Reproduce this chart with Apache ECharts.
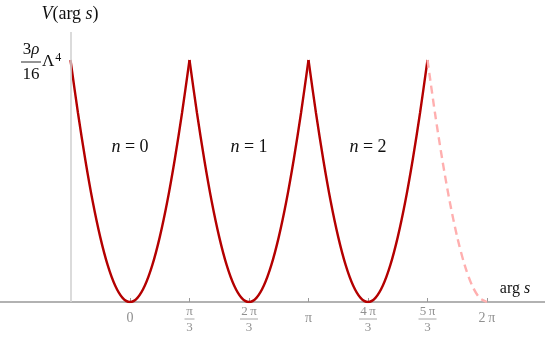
<!DOCTYPE html>
<html>
<head>
<meta charset="utf-8">
<script src="https://cdn.jsdelivr.net/npm/echarts@6/dist/echarts.min.js"></script>
<style>html,body{margin:0;padding:0;background:#fff}#c{width:545px;height:337px}</style>
</head>
<body>
<div id="c"></div>
<script>
// x in units of pi/3, sampled every pi/24 (1/8 unit); y normalised so max = 3rho/16 Lambda^4 = 1
const sampleStep = 1 / 8;
const branchN0 = [1.0,0.782,0.586,0.413,0.268,0.152,0.068,0.017,0,0.017,0.068,0.152,0.268,0.413,0.586,0.782,1.0];
const branchN1 = [1.0,0.782,0.586,0.413,0.268,0.152,0.068,0.017,0,0.017,0.068,0.152,0.268,0.413,0.586,0.782,1.0];
const branchN2 = [1.0,0.782,0.586,0.413,0.268,0.152,0.068,0.017,0,0.017,0.068,0.152,0.268,0.413,0.586,0.782,1.0];
const branchDashed = [1.0,0.782,0.586,0.413,0.268,0.152,0.068,0.017,0];
const branchStarts = [-1, 1, 3, 5];
const tickValues = [0,1,2,3,4,5,6];
const tickNumerators = ['0','π','2\u2009π','π','4\u2009π','5\u2009π','2\u2009π'];
const tickDenominators = ['','3','3','','3','3',''];
const branchLabels = ['n = 0','n = 1','n = 2'];

function pts(arr, start){ return arr.map((v,i)=>[start + i*sampleStep, v]); }

const chart = echarts.init(document.getElementById('c'), null, {renderer:'canvas'});
const red = '#b40000';
const serif = '"Liberation Serif","DejaVu Serif",serif';

const curveSeries = (data, dashed) => ({
  type:'line', data, smooth:0.3, symbol:'none', silent:true, z:3,
  lineStyle:{color: dashed ? '#ffafaf' : red, width:2.4, type: dashed ? [8,5] : 'solid'}
});

chart.setOption({
  animation:false,
  grid:{left:0, right:0, top:32, bottom:35},
  xAxis:{type:'value', min:-130/59.5, max:415/59.5,
    axisLine:{show:true, onZero:false, lineStyle:{color:'#999', width:1.5}},
    axisTick:{show:true, inside:true, length:4, customValues:tickValues, lineStyle:{color:'#999', width:1}},
    axisLabel:{show:false}, splitLine:{show:false}},
  yAxis:{type:'value', min:0, max:270/242, show:false, splitLine:{show:false}},
  series:[
    Object.assign(curveSeries(pts(branchN0, branchStarts[0]), false), {
      markLine:{silent:true, symbol:'none', label:{show:false},
        lineStyle:{color:'#d2d2d2', width:1.6, type:'solid'},
        data:[{xAxis:-1}]}, z:2}),
    curveSeries(pts(branchN1, branchStarts[1]), false),
    curveSeries(pts(branchN2, branchStarts[2]), false),
    curveSeries(pts(branchDashed, branchStarts[3]), true),
    {
      type:'custom', silent:true, clip:false,
      data: tickValues.map((v,i)=>[v, i]),
      renderItem:function(params, api){
        const i = api.value(1);
        const p = api.coord([api.value(0), 0]);
        const num = tickNumerators[i], den = tickDenominators[i];
        const col = '#909090';
        if (!den) {
          return {type:'text', style:{text:num, x:p[0], y:p[1]+16, align:'center', verticalAlign:'middle',
            font:'14px '+serif, fill:col}};
        }
        const hw = num.length > 1 ? 9 : 5;
        return {type:'group', children:[
          {type:'text', style:{text:num, x:p[0], y:p[1]+10, align:'center', verticalAlign:'middle', font:'13px '+serif, fill:col}},
          {type:'line', shape:{x1:p[0]-hw, y1:p[1]+17, x2:p[0]+hw, y2:p[1]+17}, style:{stroke:col, lineWidth:0.8}},
          {type:'text', style:{text:den, x:p[0], y:p[1]+26, align:'center', verticalAlign:'middle', font:'13px '+serif, fill:col}}
        ]};
      }
    }
  ]
});

const px = (v) => chart.convertToPixel({gridIndex:0}, [v, 0])[0];
const graphics = [
  {type:'text', silent:true, style:{x:70, y:14, align:'center', verticalAlign:'middle', fill:'#111',
    text:'{i|V}{r|(arg }{i|s}{r|)}',
    rich:{i:{font:'italic 18px '+serif}, r:{font:'18px '+serif}}}},
  {type:'text', silent:true, style:{x:515, y:289, align:'center', verticalAlign:'middle', fill:'#111',
    text:'{r|arg }{i|s}',
    rich:{i:{font:'italic 16px '+serif}, r:{font:'16px '+serif}}}},
  // y label fraction
  {type:'text', silent:true, style:{x:31, y:50, align:'center', verticalAlign:'middle', fill:'#111',
    text:'{r|3}{i|ρ}', rich:{i:{font:'italic 17px '+serif}, r:{font:'17px '+serif}}}},
  {type:'line', silent:true, shape:{x1:21, y1:62, x2:41, y2:62}, style:{stroke:'#111', lineWidth:0.9}},
  {type:'text', silent:true, style:{x:31, y:75, align:'center', verticalAlign:'middle', fill:'#111', text:'16', font:'17px '+serif}},
  {type:'text', silent:true, style:{x:42, y:62, align:'left', verticalAlign:'middle', fill:'#111',
    text:'{r|Λ}{s|4}', rich:{r:{font:'17px '+serif}, s:{font:'12px '+serif, verticalAlign:'top', padding:[0,0,9,1]}}}}
];
branchLabels.forEach((lab, k) => {
  const parts = lab.split(' = ');
  graphics.push({type:'text', silent:true, style:{x:px(2*k), y:147, align:'center', verticalAlign:'middle', fill:'#111',
    text:'{i|'+parts[0]+'}{r| = '+parts[1]+'}', rich:{i:{font:'italic 18px '+serif}, r:{font:'18px '+serif}}}});
});
chart.setOption({graphic:graphics});
</script>
</body>
</html>
